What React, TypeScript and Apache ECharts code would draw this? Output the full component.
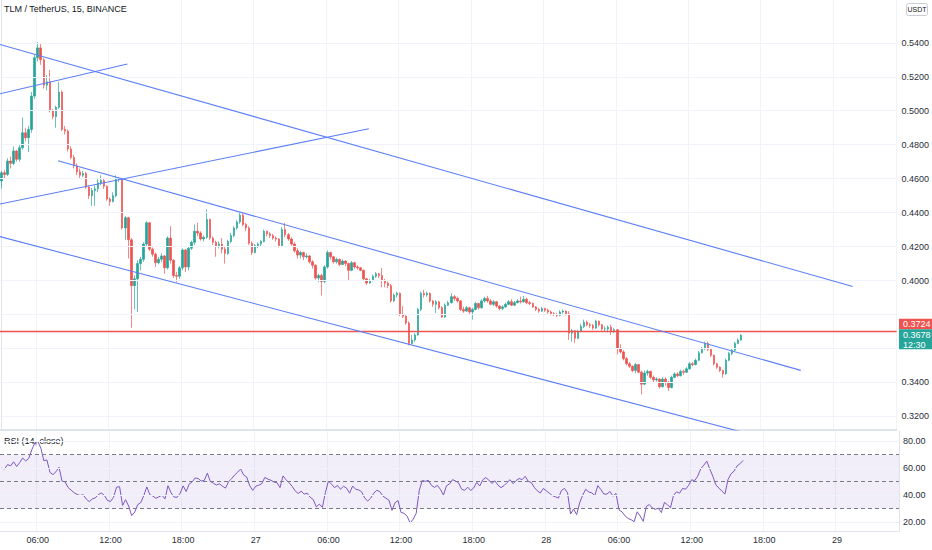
import React, { useEffect, useRef } from "react";
import * as echarts from "echarts";

const titleText = "TLM / TetherUS, 15, BINANCE";
const rsiTitle = "RSI (14, close)";
const quoteCurrency = "USDT";
const startDay = 26;
const startHour = 3;
const stepMinutes = 15;
const totalSlots = 297;
const timeTicks = ["00:00", "06:00", "12:00", "18:00"];
const firstOpen = 0.4586;
const alertPrice = 0.3724;
const countdown = "12:30";
const rsiSeed = 58;
const priceTicks = [0.32, 0.34, 0.36, 0.38, 0.4, 0.42, 0.44, 0.46, 0.48, 0.5, 0.52, 0.54];
const rsiTicks = [20, 40, 60, 80];
const rsiLevels = [30, 50, 70];

const closes = [
  0.4635, 0.4625, 0.4704, 0.4690, 0.4763, 0.4714, 0.4782, 0.4870, 0.4841, 0.4890,
  0.5086, 0.5312, 0.5370, 0.5300, 0.5150, 0.5170, 0.5000, 0.4965, 0.5020, 0.5110,
  0.4890, 0.4880, 0.4775, 0.4725, 0.4675, 0.4640, 0.4620, 0.4630, 0.4550, 0.4500,
  0.4530, 0.4540, 0.4575, 0.4590, 0.4555, 0.4480, 0.4465, 0.4500, 0.4595, 0.4600,
  0.4310, 0.4370, 0.4240, 0.3970, 0.4010, 0.4100, 0.4125, 0.4215, 0.4340, 0.4185,
  0.4155, 0.4105, 0.4125, 0.4145, 0.4075, 0.4250, 0.4120, 0.4030, 0.4025, 0.4075,
  0.4180, 0.4080, 0.4190, 0.4225, 0.4290, 0.4280, 0.4245, 0.4255, 0.4360, 0.4250,
  0.4225, 0.4200, 0.4215, 0.4185, 0.4160, 0.4230, 0.4265, 0.4310, 0.4345, 0.4385,
  0.4330, 0.4310, 0.4220, 0.4165, 0.4205, 0.4215, 0.4230, 0.4290, 0.4275, 0.4265,
  0.4250, 0.4245, 0.4205, 0.4300, 0.4270, 0.4245, 0.4215, 0.4175, 0.4150, 0.4165,
  0.4140, 0.4145, 0.4110, 0.4090, 0.4015, 0.4030, 0.3995, 0.4080, 0.4165, 0.4140,
  0.4110, 0.4125, 0.4095, 0.4115, 0.4100, 0.4060, 0.4105, 0.4080, 0.4075, 0.4060,
  0.4010, 0.3985, 0.4000, 0.4025, 0.4040, 0.4030, 0.4000, 0.3985, 0.3970, 0.3880,
  0.3915, 0.3925, 0.3800, 0.3790, 0.3750, 0.3630, 0.3650, 0.3680, 0.3830, 0.3925,
  0.3915, 0.3925, 0.3880, 0.3860, 0.3875, 0.3840, 0.3785, 0.3855, 0.3870, 0.3905,
  0.3895, 0.3880, 0.3830, 0.3820, 0.3840, 0.3815, 0.3830, 0.3865, 0.3840, 0.3880,
  0.3895, 0.3880, 0.3860, 0.3875, 0.3850, 0.3835, 0.3845, 0.3860, 0.3875, 0.3855,
  0.3870, 0.3880, 0.3875, 0.3890, 0.3870, 0.3865, 0.3845, 0.3830, 0.3820, 0.3835,
  0.3825, 0.3815, 0.3805, 0.3800, 0.3795, 0.3815, 0.3820, 0.3805, 0.3690, 0.3705,
  0.3660, 0.3700, 0.3730, 0.3755, 0.3740, 0.3735, 0.3720, 0.3760, 0.3740, 0.3715,
  0.3715, 0.3725, 0.3700, 0.3710, 0.3600, 0.3580, 0.3540, 0.3510, 0.3495, 0.3470,
  0.3505, 0.3460, 0.3390, 0.3455, 0.3465, 0.3430, 0.3415, 0.3420, 0.3375, 0.3420,
  0.3400, 0.3370, 0.3430, 0.3450, 0.3440, 0.3465, 0.3460, 0.3480, 0.3510, 0.3505,
  0.3530, 0.3575, 0.3600, 0.3630, 0.3595, 0.3560, 0.3510, 0.3490, 0.3470, 0.3450,
  0.3530, 0.3570, 0.3590, 0.3630, 0.3650, 0.3678,
];

const highs = [
  0.4645, 0.4650, 0.4720, 0.4730, 0.4790, 0.4770, 0.4800, 0.4960, 0.4900, 0.4910,
  0.5110, 0.5330, 0.5404, 0.5400, 0.5310, 0.5210, 0.5240, 0.5010, 0.5030, 0.5170,
  0.5120, 0.4910, 0.4890, 0.4790, 0.4740, 0.4690, 0.4660, 0.4645, 0.4640, 0.4560,
  0.4545, 0.4560, 0.4600, 0.4620, 0.4600, 0.4560, 0.4490, 0.4520, 0.4620, 0.4610,
  0.4605, 0.4380, 0.4375, 0.4250, 0.4030, 0.4120, 0.4140, 0.4225, 0.4350, 0.4345,
  0.4195, 0.4165, 0.4140, 0.4160, 0.4150, 0.4260, 0.4320, 0.4125, 0.4050, 0.4085,
  0.4190, 0.4185, 0.4200, 0.4235, 0.4330, 0.4340, 0.4290, 0.4265, 0.4418, 0.4365,
  0.4260, 0.4235, 0.4230, 0.4250, 0.4200, 0.4240, 0.4280, 0.4320, 0.4355, 0.4398,
  0.4395, 0.4340, 0.4320, 0.4230, 0.4215, 0.4225, 0.4240, 0.4300, 0.4295, 0.4285,
  0.4275, 0.4260, 0.4250, 0.4315, 0.4340, 0.4280, 0.4255, 0.4225, 0.4190, 0.4175,
  0.4170, 0.4160, 0.4150, 0.4120, 0.4095, 0.4040, 0.4040, 0.4090, 0.4178, 0.4170,
  0.4145, 0.4135, 0.4130, 0.4125, 0.4120, 0.4105, 0.4115, 0.4110, 0.4090, 0.4080,
  0.4065, 0.4015, 0.4010, 0.4035, 0.4050, 0.4045, 0.4074, 0.4010, 0.3995, 0.3980,
  0.3925, 0.3935, 0.3930, 0.3850, 0.3795, 0.3760, 0.3680, 0.3690, 0.3840, 0.3935,
  0.3945, 0.3935, 0.3930, 0.3885, 0.3885, 0.3880, 0.3850, 0.3865, 0.3880, 0.3925,
  0.3915, 0.3905, 0.3885, 0.3845, 0.3850, 0.3845, 0.3840, 0.3875, 0.3870, 0.3890,
  0.3905, 0.3910, 0.3890, 0.3885, 0.3880, 0.3855, 0.3855, 0.3870, 0.3885, 0.3890,
  0.3880, 0.3890, 0.3905, 0.3910, 0.3900, 0.3880, 0.3870, 0.3850, 0.3840, 0.3845,
  0.3840, 0.3835, 0.3825, 0.3815, 0.3810, 0.3825, 0.3830, 0.3825, 0.3820, 0.3715,
  0.3705, 0.3710, 0.3745, 0.3770, 0.3765, 0.3750, 0.3745, 0.3770, 0.3765, 0.3745,
  0.3730, 0.3735, 0.3740, 0.3720, 0.3715, 0.3625, 0.3590, 0.3550, 0.3520, 0.3500,
  0.3515, 0.3510, 0.3470, 0.3470, 0.3475, 0.3470, 0.3440, 0.3430, 0.3425, 0.3430,
  0.3430, 0.3410, 0.3440, 0.3460, 0.3460, 0.3475, 0.3475, 0.3490, 0.3520, 0.3520,
  0.3540, 0.3585, 0.3610, 0.3640, 0.3640, 0.3600, 0.3565, 0.3515, 0.3495, 0.3475,
  0.3540, 0.3580, 0.3600, 0.3640, 0.3660, 0.3685,
];

const lows = [
  0.4541, 0.4600, 0.4616, 0.4660, 0.4680, 0.4700, 0.4700, 0.4770, 0.4820, 0.4757,
  0.4870, 0.5070, 0.5290, 0.5270, 0.5130, 0.5120, 0.4990, 0.4950, 0.4900, 0.5010,
  0.4880, 0.4860, 0.4760, 0.4715, 0.4660, 0.4620, 0.4600, 0.4610, 0.4540, 0.4480,
  0.4440, 0.4440, 0.4520, 0.4560, 0.4540, 0.4470, 0.4440, 0.4460, 0.4490, 0.4580,
  0.4300, 0.4240, 0.4130, 0.3722, 0.3832, 0.3815, 0.4060, 0.4110, 0.4200, 0.4175,
  0.4140, 0.4080, 0.4095, 0.4110, 0.4040, 0.4065, 0.4100, 0.4015, 0.3990, 0.4010,
  0.4060, 0.4050, 0.4060, 0.4180, 0.4210, 0.4260, 0.4235, 0.4230, 0.4245, 0.4240,
  0.4210, 0.4140, 0.4190, 0.4160, 0.4100, 0.4150, 0.4220, 0.4255, 0.4300, 0.4335,
  0.4320, 0.4290, 0.4210, 0.4150, 0.4160, 0.4190, 0.4200, 0.4225, 0.4260, 0.4250,
  0.4240, 0.4230, 0.4195, 0.4200, 0.4255, 0.4235, 0.4205, 0.4165, 0.4130, 0.4130,
  0.4120, 0.4130, 0.4100, 0.4070, 0.4005, 0.3990, 0.3912, 0.3985, 0.4070, 0.4125,
  0.4100, 0.4100, 0.4085, 0.4090, 0.4085, 0.4003, 0.4055, 0.4070, 0.4065, 0.4055,
  0.4000, 0.3975, 0.3980, 0.3995, 0.4015, 0.4015, 0.3960, 0.3960, 0.3955, 0.3870,
  0.3875, 0.3900, 0.3790, 0.3780, 0.3740, 0.3618, 0.3625, 0.3640, 0.3675, 0.3820,
  0.3900, 0.3905, 0.3870, 0.3845, 0.3810, 0.3830, 0.3780, 0.3780, 0.3850, 0.3865,
  0.3880, 0.3870, 0.3820, 0.3810, 0.3815, 0.3800, 0.3770, 0.3825, 0.3830, 0.3835,
  0.3870, 0.3870, 0.3855, 0.3850, 0.3840, 0.3825, 0.3825, 0.3840, 0.3855, 0.3850,
  0.3850, 0.3865, 0.3865, 0.3870, 0.3860, 0.3855, 0.3840, 0.3820, 0.3810, 0.3815,
  0.3815, 0.3805, 0.3795, 0.3790, 0.3785, 0.3790, 0.3805, 0.3795, 0.3650, 0.3640,
  0.3632, 0.3655, 0.3695, 0.3720, 0.3730, 0.3720, 0.3710, 0.3715, 0.3730, 0.3705,
  0.3700, 0.3695, 0.3680, 0.3690, 0.3565, 0.3570, 0.3530, 0.3500, 0.3485, 0.3460,
  0.3455, 0.3455, 0.3330, 0.3385, 0.3440, 0.3420, 0.3400, 0.3405, 0.3365, 0.3370,
  0.3380, 0.3350, 0.3365, 0.3425, 0.3430, 0.3435, 0.3445, 0.3455, 0.3475, 0.3495,
  0.3500, 0.3525, 0.3570, 0.3590, 0.3585, 0.3550, 0.3500, 0.3480, 0.3460, 0.3428,
  0.3445, 0.3525, 0.3560, 0.3585, 0.3625, 0.3645,
];

// trend lines: [slot index, price] endpoints
const trendLines: [number, number][][] = [
  [[-0.5, 0.5390], [282, 0.3965]],
  [[-0.5, 0.5100], [41.7, 0.5275]],
  [[-0.5, 0.4451], [121.7, 0.4894]],
  [[18.7, 0.4706], [264.8, 0.3471]],
  [[-0.5, 0.4259], [250, 0.3086]],
];

const UP = "#26a69a";
const DOWN = "#ef5350";
const GRID = "#f0f3fa";
const BORDER = "#e0e3eb";
const TEXT = "#2a2e39";
const FONT = "Liberation Sans, Arial, sans-serif";
const TREND = "#5b7ff7";

function buildCategories(): string[] {
  const out: string[] = [];
  for (let i = 0; i < totalSlots; i++) {
    const m = startHour * 60 + i * stepMinutes;
    const d = startDay + Math.floor(m / 1440);
    const mm = m % 1440;
    const hh = String(Math.floor(mm / 60)).padStart(2, "0");
    const mi = String(mm % 60).padStart(2, "0");
    out.push(`${d} ${hh}:${mi}`);
  }
  return out;
}

function buildCandles(): number[][] {
  const out: number[][] = [];
  let prev = firstOpen;
  for (let i = 0; i < closes.length; i++) {
    const o = prev;
    const c = closes[i];
    const h = Math.max(highs[i], o, c);
    const l = Math.min(lows[i], o, c);
    out.push([o, c, l, h]);
    prev = c;
  }
  return out;
}

function computeRsi(period = 14): number[] {
  let sumMove = 0;
  let prev = firstOpen;
  for (let i = 0; i < period; i++) {
    sumMove += Math.abs(closes[i] - prev);
    prev = closes[i];
  }
  const m = sumMove / period;
  let avgGain = (m * rsiSeed) / 100;
  let avgLoss = (m * (100 - rsiSeed)) / 100;
  const out: number[] = [];
  prev = firstOpen;
  for (let i = 0; i < closes.length; i++) {
    const ch = closes[i] - prev;
    prev = closes[i];
    avgGain = (avgGain * (period - 1) + Math.max(ch, 0)) / period;
    avgLoss = (avgLoss * (period - 1) + Math.max(-ch, 0)) / period;
    const rs = avgLoss === 0 ? 1000 : avgGain / avgLoss;
    out.push(+(100 - 100 / (1 + rs)).toFixed(2));
  }
  return out;
}

const isMult = (v: number, step: number) => Math.abs(v / step - Math.round(v / step)) < 1e-4;

export default function App() {
  const ref = useRef<HTMLDivElement>(null);
  useEffect(() => {
    if (!ref.current) return;
    const chart = echarts.init(ref.current, undefined, { renderer: "svg" });
    const categories = buildCategories();
    const candles = buildCandles();
    const rsi = computeRsi();
    const lastPrice = closes[closes.length - 1];
    const isTick = (_i: number, v: string) => timeTicks.includes(String(v).split(" ")[1]);
    const maxLabel = priceTicks[priceTicks.length - 1];
    let hideLo = Infinity;
    let hideHi = -Infinity;
    const priceLabel = (v: number) => {
      if (!isMult(v, 0.02) || v > maxLabel + 1e-6) return "";
      if (v >= hideLo && v <= hideHi) return "";
      return v.toFixed(4);
    };

    const option: any = {
      animation: false,
      backgroundColor: "#ffffff",
      textStyle: { fontFamily: FONT },
      grid: [
        { left: 0, right: 33, top: 0, height: 430 },
        { left: 0, right: 33, top: 431, height: 100 },
      ],
      xAxis: [
        {
          type: "category",
          gridIndex: 0,
          data: categories,
          boundaryGap: true,
          axisLabel: { show: false },
          axisTick: { show: false },
          axisLine: { show: true, lineStyle: { color: BORDER, width: 2 } },
          splitLine: { show: true, interval: isTick, lineStyle: { color: GRID, width: 1 } },
        },
        {
          type: "category",
          gridIndex: 1,
          data: categories,
          boundaryGap: true,
          axisLabel: {
            interval: isTick,
            formatter: (v: string) => {
              const [d, t] = v.split(" ");
              return t === "00:00" ? d : t;
            },
            fontSize: 9,
            color: TEXT,
            margin: 4,
            fontFamily: FONT,
          },
          axisTick: { show: false },
          axisLine: { show: true, lineStyle: { color: BORDER, width: 1 } },
          splitLine: { show: true, interval: isTick, lineStyle: { color: GRID, width: 1 } },
        },
        {
          type: "value",
          gridIndex: 0,
          min: -0.5,
          max: totalSlots - 0.5,
          show: false,
        },
      ],
      yAxis: [
        {
          type: "value",
          gridIndex: 0,
          position: "right",
          min: 0.312,
          max: 0.5652,
          interval: 0.004,
          axisLine: { show: true, lineStyle: { color: BORDER } },
          axisTick: { show: false },
          splitLine: { show: false },
          axisLabel: {
            formatter: priceLabel,
            fontSize: 9,
            color: TEXT,
            margin: 5,
            fontFamily: FONT,
          },
        },
        {
          type: "value",
          gridIndex: 1,
          position: "right",
          min: 13.5,
          max: 87.5,
          interval: 0.5,
          axisLine: { show: true, lineStyle: { color: BORDER } },
          axisTick: { show: false },
          splitLine: { show: false },
          axisLabel: {
            formatter: (v: number) => (isMult(v, 20) ? v.toFixed(2) : ""),
            fontSize: 9,
            color: TEXT,
            margin: 4,
            fontFamily: FONT,
          },
        },
      ],
      series: [
        {
          type: "line",
          xAxisIndex: 0,
          yAxisIndex: 0,
          data: categories.map(() => null),
          symbol: "none",
          silent: true,
          z: 1,
          markLine: {
            silent: true,
            symbol: ["none", "none"],
            label: { show: false },
            animation: false,
            data: [
              ...priceTicks.map((p) => ({ yAxis: p, lineStyle: { color: GRID, width: 1, type: "solid" } })),
              { yAxis: lastPrice, lineStyle: { color: "#5cbfb4", width: 1, type: [2, 2], opacity: 1 } },
            ],
          },
        },
        {
          type: "candlestick",
          name: "TLM",
          xAxisIndex: 0,
          yAxisIndex: 0,
          data: candles,
          barWidth: 2,
          z: 3,
          itemStyle: {
            color: UP,
            color0: DOWN,
            borderColor: UP,
            borderColor0: DOWN,
            borderWidth: 0.7,
          },
          markLine: {
            silent: true,
            symbol: ["none", "none"],
            label: { show: false },
            animation: false,
            data: [{ yAxis: alertPrice, lineStyle: { color: DOWN, width: 1.4, type: "solid" } }],
          },
        },
        ...trendLines.map((pts) => ({
          type: "line",
          xAxisIndex: 2,
          yAxisIndex: 0,
          data: pts,
          symbol: "none",
          clip: true,
          silent: true,
          z: 5,
          lineStyle: { color: TREND, width: 1.1 },
        })),
        {
          type: "line",
          name: "RSI",
          xAxisIndex: 1,
          yAxisIndex: 1,
          data: rsi,
          symbol: "none",
          z: 4,
          lineStyle: { color: "#7e57c2", width: 1 },
          markArea: {
            silent: true,
            itemStyle: { color: "rgba(126,87,194,0.1)" },
            data: [[{ yAxis: rsiLevels[0] }, { yAxis: rsiLevels[2] }]],
          },
          markLine: {
            silent: true,
            symbol: ["none", "none"],
            label: { show: false },
            animation: false,
            data: [
              ...rsiTicks.map((v) => ({ yAxis: v, lineStyle: { color: GRID, width: 1, type: "solid" } })),
              ...rsiLevels.map((v) => ({ yAxis: v, lineStyle: { color: "#787b86", width: 1, type: [4, 3] } })),
            ],
          },
        },
      ],
    };
    chart.setOption(option);

    const yRed = chart.convertToPixel({ yAxisIndex: 0 } as any, alertPrice) as number;
    const yLast = chart.convertToPixel({ yAxisIndex: 0 } as any, lastPrice) as number;
    const tealTop = yLast - 6;
    const redTop = Math.min(yRed - 5.5, tealTop - 10.5);
    const boxBottom = tealTop + 20;
    // price labels hidden behind the two price boxes
    const vTop = chart.convertFromPixel({ yAxisIndex: 0 } as any, redTop - 6) as number;
    const vBottom = chart.convertFromPixel({ yAxisIndex: 0 } as any, boxBottom + 6) as number;
    hideLo = Math.min(vTop, vBottom);
    hideHi = Math.max(vTop, vBottom);

    chart.setOption({
      yAxis: [{ axisLabel: { formatter: priceLabel } }, {}],
      graphic: [
        {
          type: "text",
          x: 4,
          y: 9,
          style: { text: titleText, fontSize: 9, fill: "#131722", fontFamily: FONT, verticalAlign: "middle" },
        },
        {
          type: "text",
          x: 4,
          y: 441,
          style: { text: rsiTitle, fontSize: 9, fill: "#131722", fontFamily: FONT, verticalAlign: "middle" },
        },
        {
          type: "rect",
          shape: { x: 906.5, y: 3.5, width: 21, height: 12, r: 2 },
          style: { fill: "#ffffff", stroke: "#c9ccd6", lineWidth: 1 },
        },
        {
          type: "text",
          x: 917,
          y: 9.5,
          style: { text: quoteCurrency, fontSize: 7, fill: "#131722", fontFamily: FONT, align: "center", verticalAlign: "middle" },
        },
        {
          type: "rect",
          shape: { x: 899, y: redTop, width: 33, height: 10.5 },
          style: { fill: DOWN },
        },
        {
          type: "text",
          x: 903,
          y: redTop + 5.5,
          style: { text: alertPrice.toFixed(4), fontSize: 9, fill: "#ffffff", fontFamily: FONT, verticalAlign: "middle" },
        },
        {
          type: "rect",
          shape: { x: 899, y: tealTop, width: 33, height: 20 },
          style: { fill: UP },
        },
        {
          type: "text",
          x: 903,
          y: yLast,
          style: { text: lastPrice.toFixed(4), fontSize: 9, fill: "#ffffff", fontFamily: FONT, verticalAlign: "middle" },
        },
        {
          type: "text",
          x: 903,
          y: yLast + 9.5,
          style: { text: countdown, fontSize: 9, fill: "#ffffff", fontFamily: FONT, verticalAlign: "middle" },
        },
      ],
    });

    return () => chart.dispose();
  }, []);

  return (
    <div
      ref={ref}
      style={{ position: "fixed", left: 0, top: 0, width: 932, height: 550, background: "#ffffff" }}
    />
  );
}
